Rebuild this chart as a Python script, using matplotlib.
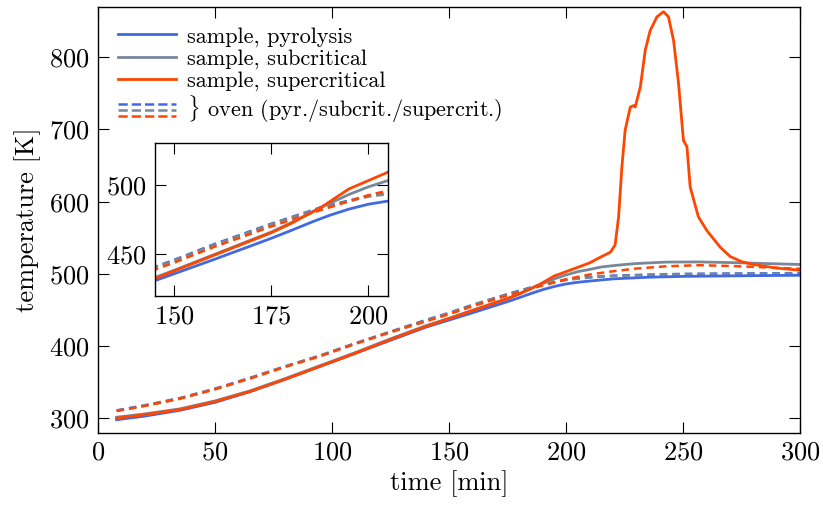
import matplotlib
matplotlib.use("Agg")
import matplotlib.pyplot as plt
from matplotlib.lines import Line2D
from matplotlib.legend_handler import HandlerBase

plt.rcParams['font.family'] = 'serif'
plt.rcParams['font.serif'] = ['cmr10']
plt.rcParams['mathtext.fontset'] = 'cm'
plt.rcParams['axes.formatter.use_mathtext'] = True

# sample temperatures
t_pyr = [8, 20, 35, 50, 65, 80, 95, 110, 125, 140, 150, 160, 170, 175, 180, 186, 190, 195, 200, 205, 210, 220, 235, 250, 265, 280, 300]
T_pyr = [298, 303, 311, 322, 337, 354, 372, 390, 408, 426, 436, 446, 456.3, 461.5, 467, 473.8, 478, 482.5, 486, 488.3, 490, 493, 495.3, 496.5, 497, 497.5, 498]

t_sub = [8, 20, 35, 50, 65, 80, 95, 110, 125, 140, 150, 160, 170, 175, 180, 188, 195, 200, 205, 210, 215, 222, 230, 243, 257, 272, 300]
T_sub = [301.5, 306, 313, 324, 338, 355, 373, 391, 410, 428, 438.5, 449.5, 460.5, 466, 472.5, 484, 493, 498.5, 503, 506, 509.5, 512, 514.3, 516.3, 516.5, 515.5, 513]

t_sup = [8, 20, 35, 50, 65, 80, 95, 110, 125, 140, 150, 160, 170, 175, 180, 188, 195, 200, 205, 210, 214.7, 219, 221,
         222.5, 223.9, 225.3, 227.5, 228.9, 229.6, 231.8, 233.9, 236, 238.9, 241.7, 243.8, 246, 248.1,
         250.2, 251.7, 253.1, 256.6, 260.2, 265.9, 270.2, 275, 280, 290, 300]
T_sup = [300, 305, 312, 323, 337, 354, 372, 390, 409, 427, 438, 449, 460, 465.5, 472, 484, 497, 503, 509, 515, 523, 530, 540,
         579, 648, 699, 731, 733, 731, 759, 810, 837, 856, 863, 856, 823, 764,
         685, 676, 620, 579, 560, 537, 524, 517, 513, 508, 505]

# oven temperatures
t_oven = [8, 20, 35, 50, 65, 80, 95, 110, 125, 140, 150, 160, 175, 188, 200, 210, 220, 235, 250, 270, 300]
T_oven_pyr = [311, 318, 328, 341, 356, 372, 387, 404, 420, 436, 446, 457, 472, 484, 492, 495.5, 497.5, 499, 500, 500.5, 501]
T_oven_sub = [310.5, 317.5, 327.5, 340.5, 355.5, 371.5, 386.5, 403.5, 419.5, 435.5, 445.5, 456.5, 471.5, 483.5, 491.5, 495, 497, 498.5, 499.5, 500, 500.4]

t_oven_sup = [8, 20, 35, 50, 65, 80, 95, 110, 125, 140, 150, 160, 175, 188, 200, 210, 220, 230, 243, 257, 272, 285, 300]
T_oven_sup = [310, 317, 327, 340, 355, 371, 386, 403, 419, 434, 444, 455, 470, 482, 492.5, 499, 503.5, 507.3, 510.5, 512, 510.7, 509, 507]

c_pyr = '#4169e1'
c_sub = '#778899'
c_sup = '#ff4500'
dash = (0, (3, 2))
lw_s = 2.0
lw_o = 1.8


class StackedHandler(HandlerBase):
    def create_artists(self, legend, orig_handle, xdescent, ydescent, width, height, fontsize, trans):
        arts = []
        for i, h in enumerate(orig_handle):
            y = height * (0.85 - i * 0.4) - ydescent
            l = Line2D([-xdescent, -xdescent + width], [y, y], color=h.get_color(),
                       lw=h.get_linewidth(), linestyle=h.get_linestyle())
            l.set_transform(trans)
            arts.append(l)
        return arts


def draw(ax):
    ax.plot(t_oven, T_oven_pyr, color=c_pyr, lw=lw_o, linestyle=dash)
    ax.plot(t_oven, T_oven_sub, color=c_sub, lw=lw_o, linestyle=dash)
    ax.plot(t_oven_sup, T_oven_sup, color=c_sup, lw=lw_o, linestyle=dash)
    ax.plot(t_pyr, T_pyr, color=c_pyr, lw=lw_s)
    ax.plot(t_sub, T_sub, color=c_sub, lw=lw_s)
    ax.plot(t_sup, T_sup, color=c_sup, lw=lw_s)


def style(ax):
    ax.tick_params(direction='in', top=True, right=True, length=8, width=0.8, labelsize=19, pad=6)
    for s in ax.spines.values():
        s.set_linewidth(1.0)


fig = plt.figure(figsize=(8.23, 5.13), dpi=100)
ax = fig.add_axes([0.119, 0.1565, 0.853, 0.8305])
draw(ax)
ax.set_xlim(0, 300)
ax.set_ylim(280, 870)
ax.set_xticks([0, 50, 100, 150, 200, 250, 300])
ax.set_yticks([300, 400, 500, 600, 700, 800])
ax.set_xlabel('time [min]', fontsize=19, labelpad=4)
ax.set_ylabel('temperature [K]', fontsize=19, labelpad=6)
style(ax)

h1 = Line2D([], [], color=c_pyr, lw=lw_s)
h2 = Line2D([], [], color=c_sub, lw=lw_s)
h3 = Line2D([], [], color=c_sup, lw=lw_s)
hd = (Line2D([], [], color=c_pyr, lw=lw_o, linestyle=dash),
      Line2D([], [], color=c_sub, lw=lw_o, linestyle=dash),
      Line2D([], [], color=c_sup, lw=lw_o, linestyle=dash))
ax.legend([h1, h2, h3, hd],
          ['sample, pyrolysis', 'sample, subcritical', 'sample, supercritical',
           r'$\}$ oven (pyr./subcrit./supercrit.)'],
          handler_map={tuple: StackedHandler()}, loc='upper left', frameon=False,
          fontsize=16, handlelength=2.6, handletextpad=0.5, labelspacing=0.1,
          borderaxespad=0.5)

axin = fig.add_axes([0.188, 0.423, 0.283, 0.298])
draw(axin)
axin.set_xlim(145, 205)
axin.set_ylim(420, 530)
axin.set_xticks([150, 175, 200])
axin.set_yticks([450, 500])
style(axin)

fig.savefig('out.png', dpi=100)
